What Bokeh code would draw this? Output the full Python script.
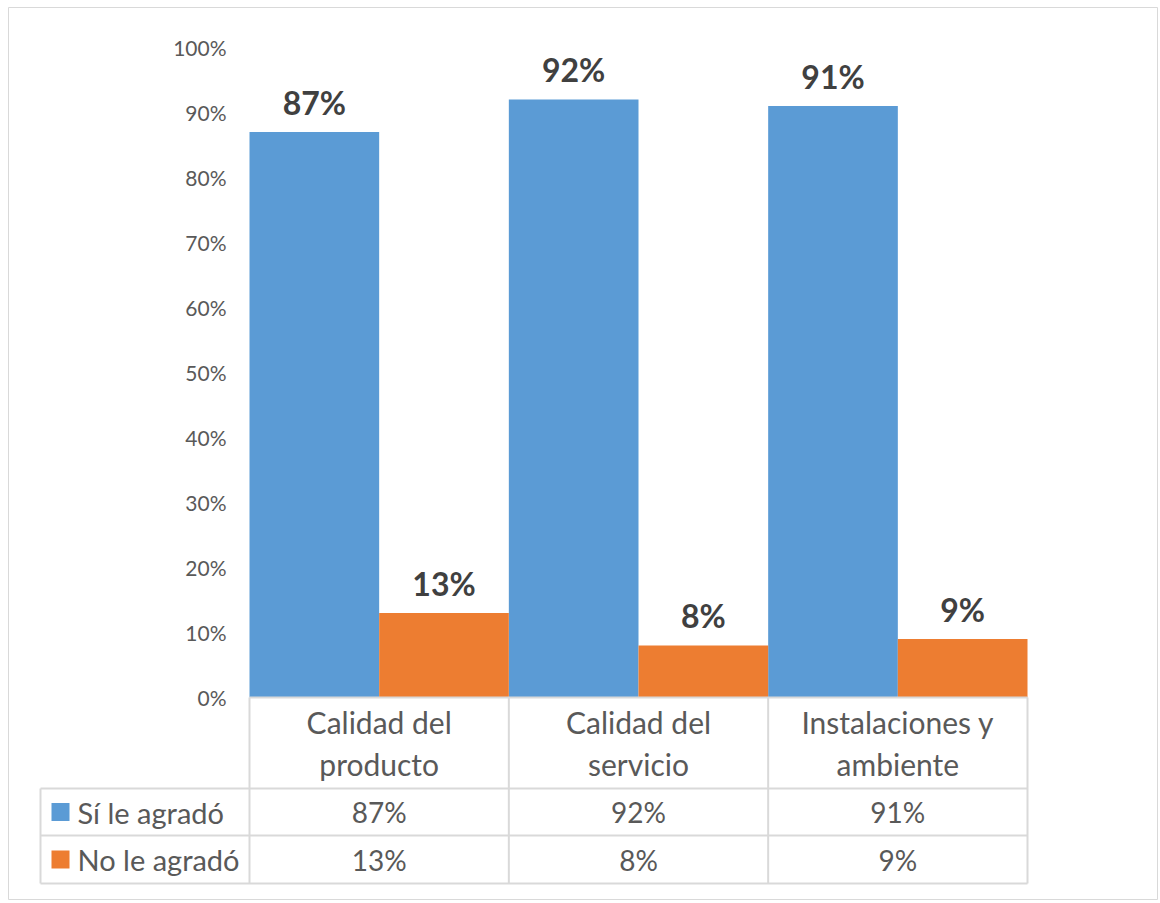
import numpy as np
from bokeh.plotting import figure
from bokeh.models import Range1d, FixedTicker, NumeralTickFormatter, ColumnDataSource
from bokeh.core.properties import value
from bokeh.embed import file_html
from bokeh.resources import INLINE

# ---- data ----
categories = ["Calidad del\nproducto", "Calidad del\nservicio", "Instalaciones y\nambiente"]
series_names = ["Sí le agradó", "No le agradó"]
si_values = [0.87, 0.92, 0.91]
no_values = [0.13, 0.08, 0.09]
y_ticks = [0.0, 0.1, 0.2, 0.3, 0.4, 0.5, 0.6, 0.7, 0.8, 0.9, 1.0]

BLUE = "#5B9BD5"
ORANGE = "#ED7D31"
GRAY_TXT = "#595959"
LABEL_TXT = "#404040"
LINE = "#D9D9D9"
FONT = "Lato"

W, H = 1158, 900
FL, FT = 8, 7          # frame offset inside figure
px_per_cat = 778 / 3.0
px_per_unit_y = 650.0
x0_px = 249.0   # category axis start (figure px)
y0_px = 697.0   # zero line (figure px from top)

x_start = (FL - x0_px) / px_per_cat
x_end = (W - x0_px) / px_per_cat
y_end = (y0_px - FT) / px_per_unit_y
y_start = (y0_px - H) / px_per_unit_y

p = figure(width=W, height=H, output_backend="svg", toolbar_location=None,
           x_axis_type=None, x_range=Range1d(x_start, x_end),
           y_range=Range1d(y_start, y_end), min_border=0,
           min_border_left=FL, min_border_top=FT,
           background_fill_color="white", border_fill_color="white")
p.outline_line_color = LINE
p.outline_line_width = 1
p.ygrid.grid_line_color = None

ax = p.yaxis[0]
ax.fixed_location = 0
ax.ticker = FixedTicker(ticks=y_ticks)
ax.formatter = NumeralTickFormatter(format="0%")
ax.axis_line_color = None
ax.major_tick_line_color = None
ax.minor_tick_line_color = None
ax.major_tick_out = 0
ax.major_tick_in = 0
ax.major_label_standoff = 23
ax.major_label_text_font = FONT
ax.major_label_text_font_size = "21px"
ax.major_label_text_color = GRAY_TXT

n = len(categories)
idx = np.arange(n)
src = ColumnDataSource(dict(
    x_si=idx + 0.25, x_no=idx + 0.75, si=si_values, no=no_values,
    si_lbl=[f"{round(v*100)}%" for v in si_values],
    no_lbl=[f"{round(v*100)}%" for v in no_values],
    xc=idx + 0.5, cat=categories,
))

p.vbar(x="x_si", top="si", bottom=0, width=0.5, source=src, fill_color=BLUE, line_color=None)
p.vbar(x="x_no", top="no", bottom=0, width=0.5, source=src, fill_color=ORANGE, line_color=None)

for xcol, ycol, lcol in [("x_si", "si", "si_lbl"), ("x_no", "no", "no_lbl")]:
    p.text(x=xcol, y=ycol, text=lcol, source=src, text_align="center",
           text_baseline="alphabetic", y_offset=-30, text_font=value(FONT),
           text_font_style="bold", text_font_size="32px", text_color=LABEL_TXT)

# ---- data table ----
row_cat_bottom = -(788 - y0_px) / px_per_unit_y
row1_bottom = -(835 - y0_px) / px_per_unit_y
row2_bottom = -(883 - y0_px) / px_per_unit_y
left_edge = -(x0_px - 40) / px_per_cat

seg_x0, seg_y0, seg_x1, seg_y1 = [], [], [], []
seg_x0.append(0); seg_y0.append(0); seg_x1.append(n); seg_y1.append(0)
for yy in [row_cat_bottom, row1_bottom, row2_bottom]:
    seg_x0.append(left_edge); seg_y0.append(yy); seg_x1.append(n); seg_y1.append(yy)
for i in range(n + 1):
    seg_x0.append(i); seg_y0.append(0); seg_x1.append(i); seg_y1.append(row2_bottom)
seg_x0.append(left_edge); seg_y0.append(row_cat_bottom); seg_x1.append(left_edge); seg_y1.append(row2_bottom)
p.segment(x0=seg_x0, y0=seg_y0, x1=seg_x1, y1=seg_y1, line_color=LINE, line_width=2)

p.text(x="xc", y=(0 + row_cat_bottom) / 2, text="cat", source=src, text_align="center",
       text_baseline="middle", text_font=value(FONT), text_font_size="30px",
       text_color=GRAY_TXT, text_line_height=1.15)

r1y = (row_cat_bottom + row1_bottom) / 2
r2y = (row1_bottom + row2_bottom) / 2
p.text(x="xc", y=r1y, text="si_lbl", source=src, text_align="center", text_baseline="middle",
       text_font=value(FONT), text_font_size="28px", text_color=GRAY_TXT)
p.text(x="xc", y=r2y, text="no_lbl", source=src, text_align="center", text_baseline="middle",
       text_font=value(FONT), text_font_size="28px", text_color=GRAY_TXT)

key_x = -(x0_px - 60) / px_per_cat
txt_x = -(x0_px - 77) / px_per_cat
p.scatter(x=[key_x, key_x], y=[r1y, r2y], marker="square", size=18,
          fill_color=[BLUE, ORANGE], line_color=None)
p.text(x=[txt_x, txt_x], y=[r1y, r2y], text=series_names, text_align="left",
       text_baseline="middle", text_font=value(FONT), text_font_size="29px",
       text_color=GRAY_TXT)

open("out.html", "w").write(file_html(p, INLINE))
